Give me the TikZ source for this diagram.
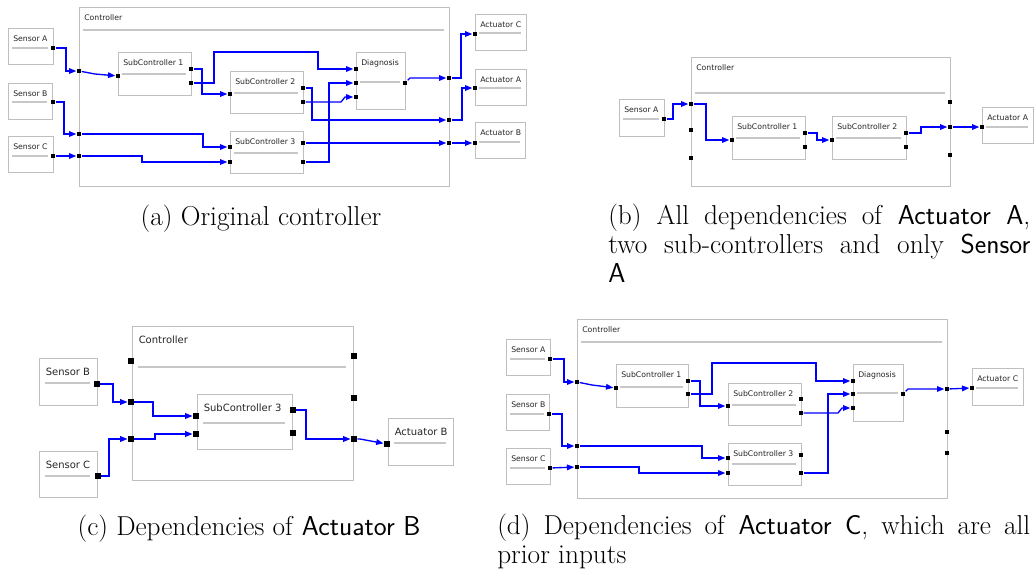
\documentclass[tikz,border=0pt]{standalone}
\usepackage{fontspec}
\newfontfamily\dejavu{DejaVu Sans}
\usetikzlibrary{arrows.meta,calc,fit}
\newcommand{\tdx}{5}
\newcommand{\tdy}{13.5}
\newcommand{\sdl}{4}
\newcommand{\sdr}{5}
\newcommand{\mkblock}[7]{%
  \node[box, fit={(#2,#3) (#4,#5)}] (#1) {};
  \node[lbl, anchor=base west] (#1t) at ($(#2,#3)+(\tdx,\tdy)$) {#7};
  \draw[sepl] ($(#2,#6)+(\sdl,0)$) -- ($(#4,#6)+(-\sdr,0)$);
}
\newcommand{\mkport}[3]{\node[port] (#1) at (#2,#3) {};}
\begin{document}
\begin{tikzpicture}[x=0.75pt,y=-0.75pt,
  box/.style={draw=black!25, line width=0.75pt, inner sep=0pt, fill=white},
  sepl/.style={draw=black!22, line width=1pt},
  lbl/.style={inner sep=0pt, font=\fontsize{5.8}{7}\selectfont\dejavu, text=black!85},
  port/.style={fill=black, draw=none, inner sep=0pt, minimum size=3.6pt},
  wire/.style={draw=blue, line width=1pt, -{Triangle[length=5.5pt,width=4.2pt]}},
  captxt/.style={inner sep=0pt, font=\fontsize{20.5}{21.4}\selectfont}]
\useasboundingbox (0,0) rectangle (1036,576);

% ================= (a) =================
\mkblock{aCtl}{79}{7}{449}{186}{30}{Controller}
\mkblock{aSA}{8}{28}{53}{64}{48}{Sensor A}
\mkblock{aSB}{8}{83}{52}{119}{102}{Sensor B}
\mkblock{aSC}{8}{136}{53}{172}{156}{Sensor C}
\mkblock{aS1}{118}{52}{191}{95}{74}{SubController 1}
\mkblock{aS2}{230}{71}{303}{113}{93}{SubController 2}
\mkblock{aS3}{230}{131}{303}{173}{153}{SubController 3}
\mkblock{aDg}{356}{52}{405}{109}{82}{Diagnosis}
\mkblock{aAC}{475}{14}{526}{50}{33}{Actuator C}
\mkblock{aAA}{475}{69}{526}{105}{88}{Actuator A}
\mkblock{aAB}{475}{122}{525}{158}{142}{Actuator B}
\mkport{aSAo}{53}{48}\mkport{aSBo}{53}{102}\mkport{aSCo}{53}{156}
\mkport{aCi1}{79}{71}\mkport{aCi2}{79}{134}\mkport{aCi3}{79}{156}
\mkport{aS1i}{118}{76}\mkport{aS1o1}{191}{69}\mkport{aS1o2}{191}{83}
\mkport{aS2i}{230}{94}\mkport{aS2o1}{303}{88}\mkport{aS2o2}{303}{102}
\mkport{aS3i1}{230}{147}\mkport{aS3i2}{230}{162}\mkport{aS3o1}{303}{143}\mkport{aS3o2}{303}{162}
\mkport{aDi1}{356}{69}\mkport{aDi2}{356}{83}\mkport{aDi3}{356}{97}\mkport{aDo}{405}{83}
\mkport{aCo1}{449}{78}\mkport{aCo2}{449}{120}\mkport{aCo3}{449}{143}
\mkport{aACi}{475}{34}\mkport{aAAi}{475}{88}\mkport{aABi}{475}{143}
\draw[wire] (aSAo) -- ++(13,0) |- (aCi1);
\draw[wire] (aCi1) -- ++(16,3) -- (aS1i);
\draw[wire] (aSBo) -- ++(11,0) |- (aCi2);
\draw[wire] (aCi2) -- ++(124,0) |- (aS3i1);
\draw[wire] (aSCo) -- (aCi3);
\draw[wire] (aCi3) -- ++(63,0) |- (aS3i2);
\draw[wire] (aS1o1) -- ++(11,0) |- (aS2i);
\draw[wire] (aS1o2) -| (214,52) -| (318,69) -- (aDi1);
\draw[wire] (aS2o1) -- ++(9,0) |- (aCo2);
\draw[wire] (aCo2) -- ++(13,0) |- (aAAi);
\draw[wire] (aS2o2) -- ++(38,0) -- ++(4,-5) -- (aDi3);
\draw[wire] (aS3o1) -- (aCo3);
\draw[wire] (aCo3) -- (aABi);
\draw[wire] (aS3o2) -- ++(26,0) |- (aDi2);
\draw[wire] (aDo) -- ++(5,-5) -- (aCo1);
\draw[wire] (aCo1) -- ++(12,0) |- (aACi);

% ================= (b) =================
\mkblock{bCtl}{691}{57}{950}{186}{93}{Controller}
\mkblock{bSA}{619}{99}{664}{136}{119}{Sensor A}
\mkblock{bS1}{732}{116}{805}{159}{138}{SubController 1}
\mkblock{bS2}{832}{116}{906}{159}{138}{SubController 2}
\mkblock{bAA}{982}{107}{1033}{143}{127}{Actuator A}
\mkport{bSAo}{664}{119}
\mkport{bCi1}{691}{104}\mkport{bCi2}{691}{130}\mkport{bCi3}{691}{158}
\mkport{bCo1}{950}{102}\mkport{bCo2}{950}{127}\mkport{bCo3}{950}{155}
\mkport{bS1i}{732}{140}\mkport{bS1o1}{805}{133}\mkport{bS1o2}{805}{147}
\mkport{bS2i}{832}{140}\mkport{bS2o1}{906}{133}\mkport{bS2o2}{906}{147}
\mkport{bAAi}{982}{127}
\draw[wire] (bSAo) -- ++(9,0) |- (bCi1);
\draw[wire] (bCi1) -- ++(15,0) |- (bS1i);
\draw[wire] (bS1o1) -- ++(12,0) |- (bS2i);
\draw[wire] (bS2o1) -- ++(15,0) |- (bCo2);
\draw[wire] (bCo2) -- (bAAi);

% ================= (c) =================
\begin{scope}[lbl/.style={inner sep=0pt, font=\fontsize{7.5}{9}\selectfont\dejavu, text=black!85},
  port/.style={fill=black, draw=none, inner sep=0pt, minimum size=4.8pt}]
\renewcommand{\tdx}{6.5}\renewcommand{\tdy}{17}\renewcommand{\sdl}{6}\renewcommand{\sdr}{7}
\mkblock{cCtl}{132}{326}{353}{480}{367}{Controller}
\mkblock{cSB}{39}{358}{97}{405}{383}{Sensor B}
\mkblock{cSC}{39}{451}{97}{497}{476}{Sensor C}
\mkblock{cS3}{197}{394}{292}{449}{423}{SubController 3}
\mkblock{cAB}{388}{418}{453}{465}{443}{Actuator B}
\mkport{cSBo}{97}{384}\mkport{cSCo}{98}{476}
\mkport{cCi1}{131}{361}\mkport{cCi2}{131}{402}\mkport{cCi3}{131}{439}
\mkport{cCo1}{354}{356}\mkport{cCo2}{354}{398}\mkport{cCo3}{354}{439}
\mkport{cS3i1}{196}{416}\mkport{cS3i2}{196}{434}\mkport{cS3o1}{293}{410}\mkport{cS3o2}{293}{433}
\mkport{cABi}{387}{444}
\draw[wire] (cSBo) -- ++(16,0) |- (cCi2);
\draw[wire] (cCi2) -- ++(22,0) |- (cS3i1);
\draw[wire] (cSCo) -- ++(11,0) |- (cCi3);
\draw[wire] (cCi3) -- ++(24,0) |- (cS3i2);
\draw[wire] (cS3o1) -- ++(13,0) |- (cCo3);
\draw[wire] (cCo3) -- ++(6,0) -- (cABi);
\end{scope}

% ================= (d) =================
\mkblock{dCtl}{577}{319}{947}{498}{342}{Controller}
\mkblock{dSA}{506}{339}{550}{375}{359}{Sensor A}
\mkblock{dSB}{506}{394}{549}{430}{414}{Sensor B}
\mkblock{dSC}{506}{448}{550}{484}{468}{Sensor C}
\mkblock{dS1}{616}{364}{688}{407}{387}{SubController 1}
\mkblock{dS2}{728}{383}{801}{425}{405}{SubController 2}
\mkblock{dS3}{728}{443}{801}{485}{464}{SubController 3}
\mkblock{dDg}{853}{364}{903}{421}{393}{Diagnosis}
\mkblock{dAC}{972}{368}{1023}{405}{388}{Actuator C}
\mkport{dSAo}{550}{359}\mkport{dSBo}{549}{414}\mkport{dSCo}{550}{468}
\mkport{dCi1}{577}{382}\mkport{dCi2}{577}{446}\mkport{dCi3}{577}{467}
\mkport{dS1i}{616}{388}\mkport{dS1o1}{688}{381}\mkport{dS1o2}{688}{394}
\mkport{dS2i}{728}{406}\mkport{dS2o1}{801}{399}\mkport{dS2o2}{801}{413}
\mkport{dS3i1}{728}{458}\mkport{dS3i2}{728}{473}\mkport{dS3o1}{801}{455}\mkport{dS3o2}{801}{473}
\mkport{dDi1}{853}{381}\mkport{dDi2}{853}{394}\mkport{dDi3}{853}{408}\mkport{dDo}{903}{394}
\mkport{dCo1}{947}{389}\mkport{dCo2}{947}{432}\mkport{dCo3}{947}{453}
\mkport{dACi}{972}{388}
\draw[wire] (dSAo) -- ++(14,0) |- (dCi1);
\draw[wire] (dCi1) -- ++(15,3) -- (dS1i);
\draw[wire] (dSBo) -- ++(13,0) |- (dCi2);
\draw[wire] (dCi2) -- ++(125,0) |- (dS3i1);
\draw[wire] (dSCo) -- (dCi3);
\draw[wire] (dCi3) -- ++(62,0) |- (dS3i2);
\draw[wire] (dS1o1) -- ++(12,0) |- (dS2i);
\draw[wire] (dS1o2) -| (712,363) -| (816,381) -- (dDi1);
\draw[wire] (dS2o2) -- ++(37,0) -- ++(4,-5) -- (dDi3);
\draw[wire] (dS3o2) -- ++(27,0) |- (dDi2);
\draw[wire] (dDo) -- ++(5,-5) -- (dCo1);
\draw[wire] (dCo1) -- (dACi);

% ================= captions =================
\node[captxt, anchor=base] (capa) at (261,225) {(a) Original controller};
\node[captxt, anchor=base west, align=left] (capb) at (608,282)
  {\makebox[316.5pt][s]{(b) All dependencies of \textsf{Actuator A},}\\
   \makebox[316.5pt][s]{two sub-controllers and only \textsf{Sensor}}\\ \textsf{A}};
\node[captxt, anchor=base] (capc) at (249,535) {(c) Dependencies of \textsf{Actuator B}};
\node[captxt, anchor=base west, align=left] (capd) at (497,563)
  {\makebox[399.75pt][s]{(d) Dependencies of \textsf{Actuator C}, which are all}\\ prior inputs};
\end{tikzpicture}
\end{document}
